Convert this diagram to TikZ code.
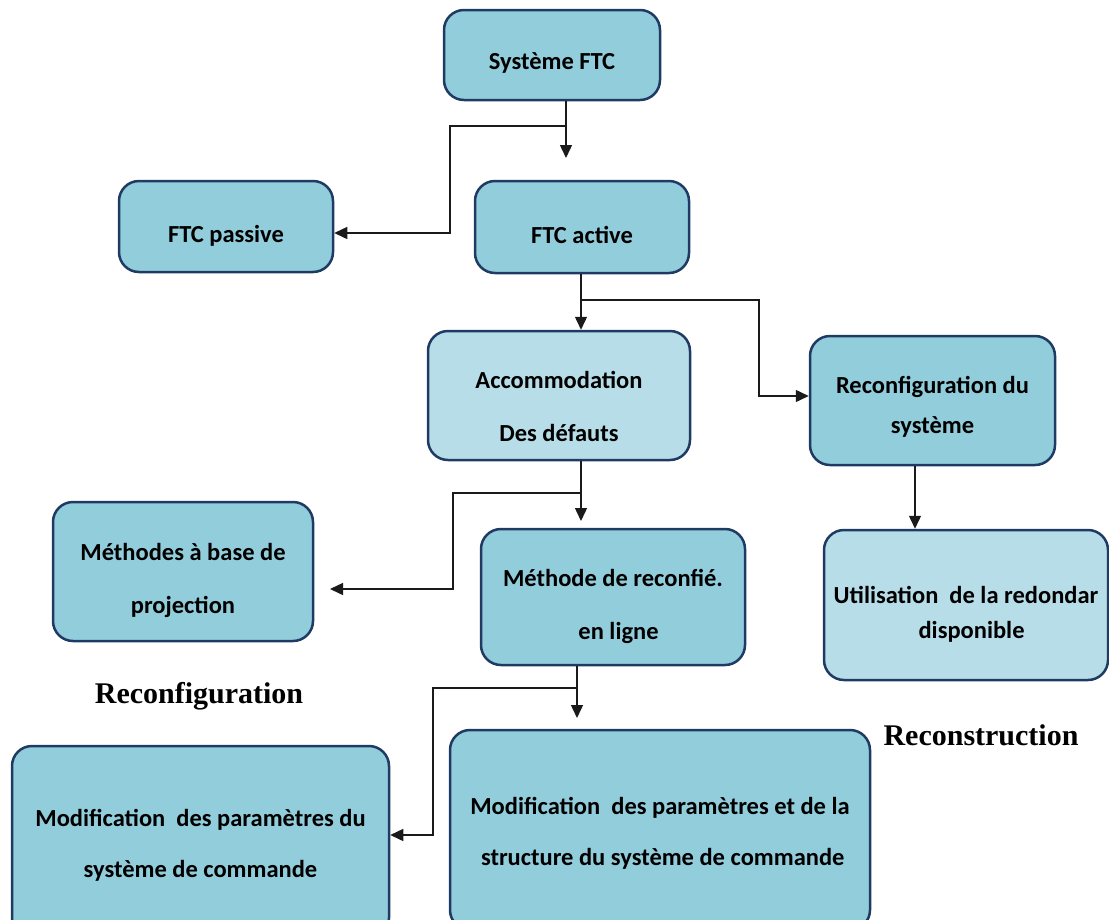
\documentclass[tikz,border=0pt]{standalone}
\usepackage{fontspec}
\setmainfont{Carlito}
\newfontfamily\labelfont{Liberation Serif}
\usetikzlibrary{arrows.meta}

\definecolor{boxdark}{HTML}{92CDDC}
\definecolor{boxlight}{HTML}{B7DEE8}
\definecolor{boxedge}{HTML}{1F3B63}
\definecolor{linkcol}{HTML}{1A1A1A}

\tikzset{
  box/.style={draw=boxedge, line width=2.5pt, rounded corners=20pt,
    fill=boxdark, inner sep=0pt},
  lightbox/.style={box, fill=boxlight},
  boxtext/.style={align=center, inner sep=0pt, text=black},
  txtA/.style={boxtext, font=\fontsize{24.5}{53}\selectfont\bfseries},
  txtB/.style={boxtext, font=\fontsize{24.5}{40}\selectfont\bfseries},
  txtC/.style={boxtext, font=\fontsize{24.5}{35}\selectfont\bfseries},
  txtD/.style={boxtext, font=\fontsize{24.5}{51}\selectfont\bfseries},
  arr/.style={draw=linkcol, line width=1.4pt,
    -{Triangle[length=13pt,width=12pt]}},
  sectlabel/.style={font=\fontsize{30}{34}\selectfont\labelfont\bfseries, inner sep=0pt}
}

\begin{document}
\begin{tikzpicture}[x=1pt,y=-1pt]
\useasboundingbox (0,0) rectangle (1109,919);

% boxes
\node[box, minimum width=216pt, minimum height=90pt] (sys) at (552,55) {};
\node[box, minimum width=214pt, minimum height=91pt] (passive) at (226,226.5) {};
\node[box, minimum width=214pt, minimum height=92pt] (active) at (582,227) {};
\node[lightbox, minimum width=262pt, minimum height=129pt] (acc) at (559,395.5) {};
\node[box, minimum width=245pt, minimum height=129pt] (reconf) at (932.5,400.5) {};
\node[box, minimum width=260pt, minimum height=139pt] (proj) at (183,571.5) {};
\node[box, minimum width=264pt, minimum height=136pt] (meth) at (613,597) {};
\node[lightbox, minimum width=284pt, minimum height=150pt] (util) at (966,605) {};
\node[box, minimum width=377pt, minimum height=192pt] (modL) at (200.5,842) {};
\node[box, minimum width=420pt, minimum height=200pt] (modR) at (660,830) {};

% box texts
\node[txtA, yshift=-8pt] (sysT) at (sys.center) {Système FTC};
\node[txtA, yshift=-9pt] (passiveT) at (passive.center) {FTC passive};
\node[txtA, yshift=-8pt] (activeT) at (active.center) {FTC active};
\node[txtA, yshift=-11pt] (accT) at (acc.center) {Accommodation\\Des défauts};
\node[txtB, yshift=-6pt] (reconfT) at (reconf.center) {Reconfiguration du\\système};
\node[txtA, yshift=-9pt] (projT) at (proj.center) {Méthodes à base de\\projection};
\node[txtA, yshift=-9pt] (methT) at (meth.center) {Méthode de reconfié.\\\ \ en ligne};
\node[txtC, yshift=-9pt] (utilT) at (util.center) {Utilisation\ \ de la redondar\\\ \ disponible};
\node[txtD, yshift=-3pt] (modLT) at (modL.center) {Modification\ \ des paramètres du\\système de commande};
\node[txtD, yshift=-3pt] (modRT) at (modR.center) {Modification\ \ des paramètres et de la\\\ structure du système de commande};

% section labels
\node[sectlabel] (lblA) at (199,696) {Reconfiguration};
\node[sectlabel] (lblB) at (981,735) {Reconstruction};

% junctions, bends and free arrow ends
\coordinate (j1) at (566,126);
\coordinate (t1) at (566,158);
\coordinate (b1) at (450,233);
\coordinate (j2) at (581,300);
\coordinate (b2) at (759,396);
\coordinate (j3) at (581,493);
\coordinate (t3) at (581,521);
\coordinate (b3) at (453,589);
\coordinate (t3b) at (330,589);
\coordinate (t4) at (915,529);
\coordinate (j5) at (577,688);
\coordinate (t5) at (577,718);
\coordinate (b5) at (433,835);

% connectors
\draw[arr] (sys.south -| t1) -- (t1);
\draw[arr] (j1) -| (b1) -- (b1 -| passive.east);

\draw[arr] (active.south -| j2) -- (acc.north -| j2);
\draw[arr] (j2) -| (b2) -- (b2 -| reconf.west);

\draw[arr] (acc.south -| j3) -- (t3);
\draw[arr] (j3) -| (b3) -- (t3b);

\draw[arr] (reconf.south -| t4) -- (util.north -| t4);

\draw[arr] (meth.south -| j5) -- (t5);
\draw[arr] (j5) -| (b5) -- (b5 -| modL.east);
\end{tikzpicture}
\end{document}
